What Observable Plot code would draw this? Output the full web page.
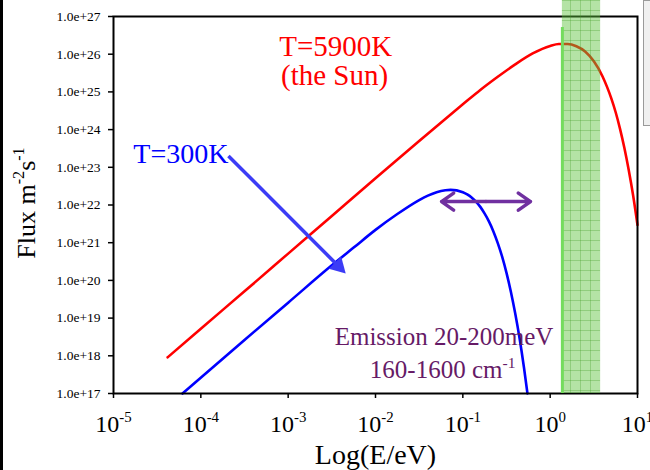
<!DOCTYPE html>
<html><head><meta charset="utf-8">
<script src="https://cdn.jsdelivr.net/npm/d3@7"></script>
<script src="https://cdn.jsdelivr.net/npm/@observablehq/plot@0.6"></script>
<style>
body{margin:0;background:#fff;}
#wrap{position:relative;width:650px;height:470px;overflow:hidden;background:#fff;}
#lborder{position:absolute;left:0;top:0;width:3px;height:470px;background:#000;}
#gbox{position:absolute;left:643px;top:0;width:12px;height:126px;background:#f0f0f0;border:1px solid #9a9a9a;box-sizing:border-box;}
</style></head>
<body><div id="wrap"><div id="chart"></div><div id="lborder"></div><div id="gbox"></div></div>
<script>
// ---- axis ticks ----
const xTicks = [1e-5, 1e-4, 1e-3, 1e-2, 1e-1, 1e0, 1e1];
const xTickLabels = ["10^{-5}", "10^{-4}", "10^{-3}", "10^{-2}", "10^{-1}", "10^{0}", "10^{1}"];
const yTicks = [1e17, 1e18, 1e19, 1e20, 1e21, 1e22, 1e23, 1e24, 1e25, 1e26, 1e27];
const yTickLabels = ["1.0e+17", "1.0e+18", "1.0e+19", "1.0e+20", "1.0e+21", "1.0e+22", "1.0e+23", "1.0e+24", "1.0e+25", "1.0e+26", "1.0e+27"];

// ---- T=5900K (the Sun): log10(E/eV) and log10(flux) ----
const sunLogE = [-4.38, -4.0, -3.5, -3.0, -2.5, -2.0, -1.5, -1.0, -0.8, -0.6, -0.4, -0.2, 0.0, 0.1, 0.2, 0.3, 0.4, 0.5, 0.6, 0.65, 0.7, 0.75, 0.8, 0.85, 0.9, 0.95, 1.0];
const sunLogFlux = [17.96, 18.72, 19.71, 20.71, 21.71, 22.71, 23.70, 24.67, 25.05, 25.40, 25.73, 26.02, 26.22, 26.27, 26.27, 26.21, 26.07, 25.81, 25.41, 25.14, 24.83, 24.46, 24.02, 23.51, 22.92, 22.25, 21.47];

// ---- T=300K ----
const roomLogE = [-4.21, -3.5, -3.0, -2.5, -2.25, -2.0, -1.75, -1.5, -1.4, -1.3, -1.2, -1.14, -1.0, -0.95, -0.9, -0.85, -0.8, -0.75, -0.7, -0.65, -0.6, -0.55, -0.5, -0.45, -0.4, -0.35, -0.3, -0.26];
const roomLogFlux = [17.00, 18.42, 19.41, 20.40, 20.87, 21.34, 21.76, 22.13, 22.25, 22.34, 22.39, 22.40, 22.34, 22.28, 22.20, 22.09, 21.95, 21.77, 21.56, 21.30, 20.99, 20.63, 20.20, 19.70, 19.12, 18.46, 17.69, 17.00];

// ---- highlighted band (eV) ----
const bandE = [1.38, 3.78];
const bandFlux = [1e17, 2.66e27];
const bandEdgeFlux = [1e17, 5.1e26];

// ---- annotations ----
const sunLabels = ["T=5900K", "(the Sun)"];
const sunLabelE = [3.5e-3, 3.4e-3];
const sunLabelFlux = [8.7e25, 1.48e25];
const roomLabel = ["T=300K"];
const roomLabelE = [2.07e-4];
const roomLabelFlux = [1.34e23];
const roomArrowE = [2.07e-4, 3.98e-3];
const roomArrowFlux = [2.0e23, 2.1e20];
const emissionLabels = ["Emission 20-200meV", "160-1600 cm^{-1}"];
const emissionLabelE = [1.09, 0.40];
const emissionLabelFlux = [1.88e18, 2.5e17];
const emissionArrowE = [0.184, 0.057, 0.596];   // centre, left tip, right tip
const emissionArrowFlux = [1.23e22];
const xLabel = "Log(E/eV)";
const yLabel = "Flux m^{-2}s^{-1}";

// ---- build tables ----
const sun = sunLogE.map((e, i) => ({E: 10 ** e, F: 10 ** sunLogFlux[i]}));
const room = roomLogE.map((e, i) => ({E: 10 ** e, F: 10 ** roomLogFlux[i]}));
const xLab = new Map(xTicks.map((t, i) => [t, xTickLabels[i]]));
const yLab = new Map(yTicks.map((t, i) => [t, yTickLabels[i]]));
const serif = "'Liberation Serif','Times New Roman',Times,serif";

const plot = Plot.plot({
  width: 650, height: 470,
  marginLeft: 113, marginRight: 13, marginTop: 16, marginBottom: 77,
  style: {fontFamily: serif, background: "transparent", overflow: "visible"},
  x: {type: "log", domain: [1e-5, 1e1]},
  y: {type: "log", domain: [1e17, 1e27]},
  marks: [
    Plot.line(sun, {x: "E", y: "F", stroke: "#ff0000", strokeWidth: 2.6, curve: "monotone-x"}),
    Plot.line(room, {x: "E", y: "F", stroke: "#0000ff", strokeWidth: 2.6, curve: "monotone-x"}),
    Plot.frame({stroke: "#000", strokeWidth: 2}),
    Plot.axisY({ticks: yTicks, tickFormat: d => yLab.get(d), tickSize: 5, tickPadding: 8, fontSize: 13.5, label: null, stroke: "#000", strokeWidth: 1.5, fill: "#000"}),
    Plot.axisX({ticks: xTicks, tickFormat: d => xLab.get(d), tickSize: 5, tickPadding: 16, fontSize: 24, label: null, stroke: "#000", strokeWidth: 1.5, fill: "#000"}),
    Plot.rect([{x1: bandE[0], x2: bandE[1], y1: bandFlux[0], y2: bandFlux[1]}], {x1: "x1", x2: "x2", y1: "y1", y2: "y2", fill: "url(#bandPattern)"}),
    Plot.ruleX([bandE[0]], {y1: bandEdgeFlux[0], y2: bandEdgeFlux[1], stroke: "#74dc5e", strokeWidth: 3}),
    Plot.link([0], {x1: () => roomArrowE[0], y1: () => roomArrowFlux[0], x2: () => roomArrowE[1], y2: () => roomArrowFlux[1], stroke: "#3c3cf6", strokeWidth: 3.5}),
    Plot.dot([0], {x: () => roomArrowE[1], y: () => roomArrowFlux[1], symbol: "triangle", r: 6.5, rotate: 135, dx: -2, dy: -2, fill: "#3c3cf6", stroke: "none"}),
    Plot.arrow([1, 2], {x1: () => emissionArrowE[0], y1: () => emissionArrowFlux[0], x2: i => emissionArrowE[i], y2: () => emissionArrowFlux[0], stroke: "#7030a0", strokeWidth: 3.5, headLength: 11, headAngle: 70}),
    Plot.text(sunLabels, {x: (d, i) => sunLabelE[i], y: (d, i) => sunLabelFlux[i], text: d => d, fill: "#ff0000", fontSize: 29, lineAnchor: "bottom", textAnchor: "middle"}),
    Plot.text(roomLabel, {x: (d, i) => roomLabelE[i], y: (d, i) => roomLabelFlux[i], text: d => d, fill: "#0000ff", fontSize: 28, lineAnchor: "bottom", textAnchor: "end"}),
    Plot.text(emissionLabels, {x: (d, i) => emissionLabelE[i], y: (d, i) => emissionLabelFlux[i], text: d => d, fill: "#661a66", fontSize: 25, lineAnchor: "bottom", textAnchor: "end"}),
    Plot.text([xLabel], {frameAnchor: "bottom", text: d => d, dy: 70, fontSize: 28, lineAnchor: "bottom", textAnchor: "middle", fill: "#000"}),
    Plot.text([yLabel], {frameAnchor: "left", text: d => d, dx: -79, dy: -2, rotate: -90, fontSize: 26, lineAnchor: "bottom", textAnchor: "middle", fill: "#000"})
  ]
});

document.getElementById("chart").appendChild(plot);

// pattern for the band
const defs = d3.select(plot).insert("defs", ":first-child");
const pat = defs.append("pattern").attr("id", "bandPattern").attr("patternUnits", "userSpaceOnUse").attr("width", 10).attr("height", 10);
pat.append("rect").attr("width", 10).attr("height", 10).attr("fill", "#5cc23a").attr("fill-opacity", 0.46);
pat.append("path").attr("d", "M0 0.5H10M0.5 0V10").attr("stroke", "#3f9e22").attr("stroke-opacity", 0.3).attr("stroke-width", 1).attr("fill", "none");

// superscripts: "^{...}" -> raised tspans
plot.querySelectorAll("text").forEach(t => {
  const s = t.textContent;
  if (!s.includes("^{")) return;
  const fs = parseFloat(getComputedStyle(t).fontSize);
  const parts = s.split(/\^\{([^}]*)\}/);
  t.textContent = "";
  let shifted = false;
  parts.forEach((p, i) => {
    if (!p) return;
    const ts = document.createElementNS("http://www.w3.org/2000/svg", "tspan");
    ts.textContent = p;
    if (i % 2 === 1) { ts.setAttribute("font-size", (fs * 0.62).toFixed(1)); ts.setAttribute("dy", (-fs * 0.4).toFixed(1)); shifted = true; }
    else if (shifted) { ts.setAttribute("dy", (fs * 0.4).toFixed(1)); shifted = false; }
    t.appendChild(ts);
  });
});
</script>
</body></html>
